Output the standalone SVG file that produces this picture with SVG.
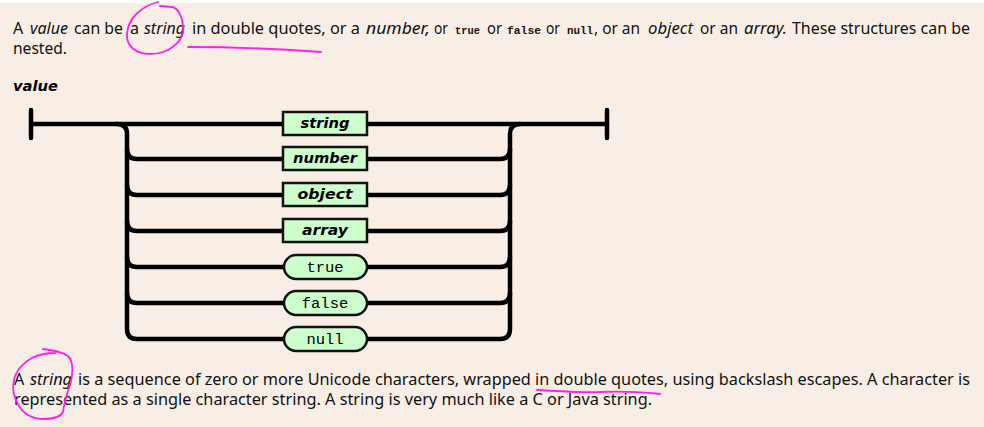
<svg xmlns="http://www.w3.org/2000/svg" width="984" height="427" viewBox="0 0 984 427">
<defs>
<style>
.bg{fill:#F9EEE5}
.t{font-family:"Noto Sans","Open Sans",sans-serif;font-size:16px;fill:#111}
.i{font-style:italic}
.m{font-family:"Liberation Mono","Courier New",monospace;font-size:11px;font-weight:bold;fill:#2a0a0a}
.lbl{font-family:"DejaVu Sans",Verdana,sans-serif;font-weight:bold;font-style:italic;font-size:14.5px;fill:#000}
.kw{font-family:"Liberation Mono","Courier New",monospace;font-size:15.5px;fill:#000;text-anchor:middle}
.nt{font-family:"DejaVu Sans",Verdana,sans-serif;font-weight:bold;font-style:italic;font-size:14.5px;fill:#000;text-anchor:middle}
.box{fill:#CCFFCC;stroke:#111;stroke-width:2.5}
.ln{fill:none;stroke:#000;stroke-width:4.5;stroke-linecap:round;stroke-linejoin:round}
.pen{fill:none;stroke:#FF1EF0;stroke-width:1.8;stroke-linecap:round;stroke-linejoin:round}
</style>
</defs>
<rect width="984" height="427" fill="#FFFFFF"/>
<rect class="bg" x="0" y="3" width="984" height="424"/>

<g id="intro">
<text class="t" x="13" y="34">A</text>
<text class="t i" x="30" y="34" textLength="38" lengthAdjust="spacingAndGlyphs">value</text>
<text class="t" x="74" y="34" textLength="49" lengthAdjust="spacingAndGlyphs">can be</text>
<text class="t" x="130" y="34">a</text>
<text class="t i" x="144" y="34" textLength="41" lengthAdjust="spacingAndGlyphs">string</text>
<text class="t" x="192" y="34" textLength="168" lengthAdjust="spacingAndGlyphs">in double quotes, or a</text>
<text class="t i" x="366" y="34" textLength="64" lengthAdjust="spacingAndGlyphs">number,</text>
<text class="t" x="434" y="34" textLength="14" lengthAdjust="spacingAndGlyphs">or</text>
<text class="m" x="455" y="34" textLength="25" lengthAdjust="spacingAndGlyphs">true</text>
<text class="t" x="487" y="34" textLength="15" lengthAdjust="spacingAndGlyphs">or</text>
<text class="m" x="507" y="34" textLength="34" lengthAdjust="spacingAndGlyphs">false</text>
<text class="t" x="546" y="34" textLength="14" lengthAdjust="spacingAndGlyphs">or</text>
<text class="m" x="567" y="34" textLength="26" lengthAdjust="spacingAndGlyphs">null</text>
<text class="t" x="594" y="34" textLength="46" lengthAdjust="spacingAndGlyphs">, or an</text>
<text class="t i" x="648" y="34" textLength="45" lengthAdjust="spacingAndGlyphs">object</text>
<text class="t" x="700" y="34" textLength="38" lengthAdjust="spacingAndGlyphs">or an</text>
<text class="t i" x="744" y="34" textLength="43" lengthAdjust="spacingAndGlyphs">array.</text>
<text class="t" x="792" y="34" textLength="178" lengthAdjust="spacingAndGlyphs">These structures can be</text>
<text class="t" x="13" y="54" textLength="54" lengthAdjust="spacingAndGlyphs">nested.</text>
</g>

<g id="title">
<text class="lbl" x="13" y="91" textLength="45" lengthAdjust="spacingAndGlyphs">value</text>
</g>

<g id="connectors">
<path class="ln" d="M31,110 V138"/>
<path class="ln" d="M607,110 V138"/>
<path class="ln" d="M31,124 H607"/>
<path class="ln" d="M117,124 Q127,124 127,134 V329 Q127,339 137,339 H283"/>
<path class="ln" d="M127,149 Q127,159 137,159 H283"/>
<path class="ln" d="M127,185 Q127,195 137,195 H283"/>
<path class="ln" d="M127,221 Q127,231 137,231 H283"/>
<path class="ln" d="M127,257 Q127,267 137,267 H283"/>
<path class="ln" d="M127,293 Q127,303 137,303 H283"/>
<path class="ln" d="M367,339 H500 Q510,339 510,329 V134 Q510,124 520,124"/>
<path class="ln" d="M367,159 H500 Q510,159 510,149"/>
<path class="ln" d="M367,195 H500 Q510,195 510,185"/>
<path class="ln" d="M367,231 H500 Q510,231 510,221"/>
<path class="ln" d="M367,267 H500 Q510,267 510,257"/>
<path class="ln" d="M367,303 H500 Q510,303 510,293"/>
</g>

<g id="node-string">
<rect class="box" x="283" y="112" width="84" height="23"/>
<text class="nt" x="325" y="128" textLength="49" lengthAdjust="spacingAndGlyphs">string</text>
</g>
<g id="node-number">
<rect class="box" x="283" y="147" width="84" height="23"/>
<text class="nt" x="325" y="163" textLength="64" lengthAdjust="spacingAndGlyphs">number</text>
</g>
<g id="node-object">
<rect class="box" x="283" y="183" width="84" height="23"/>
<text class="nt" x="325" y="199" textLength="55" lengthAdjust="spacingAndGlyphs">object</text>
</g>
<g id="node-array">
<rect class="box" x="283" y="219" width="84" height="23"/>
<text class="nt" x="325" y="235" textLength="46" lengthAdjust="spacingAndGlyphs">array</text>
</g>
<g id="node-true">
<rect class="box" x="284" y="255" width="83" height="24" rx="12" ry="12"/>
<text class="kw" x="325" y="272">true</text>
</g>
<g id="node-false">
<rect class="box" x="284" y="291" width="83" height="24" rx="12" ry="12"/>
<text class="kw" x="325" y="308">false</text>
</g>
<g id="node-null">
<rect class="box" x="284" y="327" width="83" height="24" rx="12" ry="12"/>
<text class="kw" x="325" y="344">null</text>
</g>

<g id="string-text">
<text class="t" x="14" y="385">A</text>
<text class="t i" x="30" y="385" textLength="42" lengthAdjust="spacingAndGlyphs">string</text>
<text class="t" x="78" y="385" textLength="892" lengthAdjust="spacingAndGlyphs">is a sequence of zero or more Unicode characters, wrapped in double quotes, using backslash escapes. A character is</text>
<text class="t" x="14" y="405" textLength="638" lengthAdjust="spacingAndGlyphs">represented as a single character string. A string is very much like a C or Java string.</text>
</g>

<g id="annotations">
<path class="pen" d="M158,2 C142,6 128,18 127,34 C126,46 136,54 150,54 C158,54 164,52 168,50"/>
<path class="pen" d="M168,50 C178,44 185,36 183,26 C182,16 178,8 172,7 L160,6"/>
<path class="pen" d="M188,47 C230,47 280,49 321,52"/>
<path class="pen" d="M43,349 C52,350 62,352 68,356 C74,362 73,375 70,385 C67,394 64,402 63,412 C60,418 52,419 44,419 C33,419 24,414 19,406 C14,398 12,388 14,380 C16,370 24,362 32,358 C40,354 48,353 55,353"/>
<path class="pen" d="M537,390 C560,391 580,393 600,392 C620,391 640,392 660,394"/>
</g>
</svg>
